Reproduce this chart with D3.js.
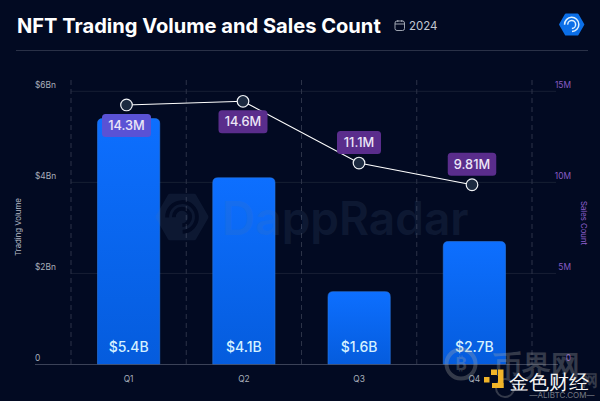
<!DOCTYPE html>
<html><head><meta charset="utf-8">
<script src="https://cdn.jsdelivr.net/npm/d3@7"></script>
<style>html,body{margin:0;padding:0;background:#020a22}svg{display:block}text{font-family:Inter,sans-serif}</style>
</head><body><svg id="c" width="600" height="401"></svg>
<script>
const quarters = ["Q1","Q2","Q3","Q4"];
const volumeBn = [5.4,4.1,1.6,2.7];
const volumeLabels = ["$5.4B","$4.1B","$1.6B","$2.7B"];
const salesM = [14.25,14.45,11.06,9.87];
const salesLabels = ["14.3M","14.6M","11.1M","9.81M"];
const leftTicks = [0,2,4,6];
const leftTickLabels = ["0","$2Bn","$4Bn","$6Bn"];
const rightTicks = [0,5,10,15];
const rightTickLabels = ["0","5M","10M","15M"];
const title = "NFT Trading Volume and Sales Count";
const period = "2024";

const svg = d3.select("#c");
const defs = svg.append("defs");
const g = defs.append("linearGradient").attr("id","bar").attr("x1",0).attr("x2",0).attr("y1",0).attr("y2",1);
g.append("stop").attr("offset",0).attr("stop-color","#0d6fff");
g.append("stop").attr("offset",1).attr("stop-color","#055cdd");

const y0 = 364.5, yTop = 91.3;
const yL = d3.scaleLinear().domain([0,6]).range([y0,yTop]);
const yR = d3.scaleLinear().domain([0,15]).range([y0,yTop]);
const x = d3.scaleBand().domain(quarters).range([71,532]).paddingInner(0.46).paddingOuter(0.23);
const xLine = d3.scaleOrdinal().domain(quarters).range([126.5,243,359,472]);
const edges = d3.scaleLinear().domain([0,4]).range([71,532]);

// header
svg.append("text").attr("x",17).attr("y",33).attr("fill","#fff").attr("font-size",20.1).attr("font-weight",700).text(title);
svg.append("text").attr("x",409).attr("y",30).attr("fill","#c3c8d2").attr("font-size",11.5).text(period);
const cal = svg.append("g").attr("transform","translate(395,20)").attr("fill","none").attr("stroke","#aeb4c0").attr("stroke-width",0.9);
cal.append("rect").attr("x",0).attr("y",1).attr("width",9.5).attr("height",9.5).attr("rx",2);
cal.append("line").attr("x1",0).attr("x2",9.5).attr("y1",4).attr("y2",4);
cal.append("line").attr("x1",2.8).attr("x2",2.8).attr("y1",0).attr("y2",2);
cal.append("line").attr("x1",6.8).attr("x2",6.8).attr("y1",0).attr("y2",2);
svg.append("line").attr("x1",16).attr("x2",588).attr("y1",50.5).attr("y2",50.5).attr("stroke","#2a3147").attr("stroke-width",1);

function radarLogo(sel,cx,cy,r,fill,stroke,sw){
  const hex = d3.range(6).map(i=>{const a=Math.PI/3*i;return [cx+r*Math.cos(a),cy+r*Math.sin(a)];});
  sel.append("path").attr("d",d3.line().curve(d3.curveLinearClosed)(hex)).attr("fill",fill).attr("stroke",fill).attr("stroke-width",r*0.2).attr("stroke-linejoin","round");
  [0.62,0.34].forEach(f=>{
    sel.append("path").attr("d",d3.arc()({innerRadius:r*f,outerRadius:r*f,startAngle:-1.6,endAngle:3.1}))
      .attr("transform",`translate(${cx},${cy})`).attr("fill","none").attr("stroke",stroke).attr("stroke-width",sw).attr("stroke-linecap","round");
  });
}
radarLogo(svg.append("g"),571.7,24.5,11.5,"#0b6fe8","#dff1ff",1.5);

// grid
svg.append("g").selectAll("line").data(leftTicks.slice(1)).join("line")
  .attr("x1",71).attr("x2",556).attr("y1",d=>yL(d)).attr("y2",d=>yL(d))
  .attr("stroke","#1d2438").attr("stroke-width",0.8);
svg.append("g").selectAll("line").data(d3.range(5)).join("line")
  .attr("x1",d=>edges(d)).attr("x2",d=>edges(d)).attr("y1",80).attr("y2",364)
  .attr("stroke","#2c3348").attr("stroke-width",1).attr("stroke-dasharray","5 4");

// bars
svg.append("g").selectAll("path").data(quarters).join("path")
  .attr("d",(d,i)=>{const x0=x(d),w=x.bandwidth(),t=yL(volumeBn[i]),r=5;
    return `M${x0},${y0}V${t+r}Q${x0},${t} ${x0+r},${t}H${x0+w-r}Q${x0+w},${t} ${x0+w},${t+r}V${y0}Z`;})
  .attr("fill","url(#bar)").attr("stroke","#2a78e6").attr("stroke-width",0.6);

// center watermark, above the bars and very faint
const wmC = svg.append("g").attr("opacity",0.13);
radarLogo(wmC,182,217,24,"#5a7aa0","#020a22",4);
wmC.append("text").attr("x",222).attr("y",235).attr("fill","#5a7aa0").attr("font-size",46).attr("font-weight",600).text("DappRadar");

svg.append("g").selectAll("text").data(quarters).join("text")
  .attr("x",d=>x(d)+x.bandwidth()/2).attr("y",351.5).attr("text-anchor","middle")
  .attr("fill","#d5f1ff").attr("font-size",14).attr("font-weight",500).text((d,i)=>volumeLabels[i]);

// baseline
svg.append("line").attr("x1",35).attr("x2",558).attr("y1",y0).attr("y2",y0).attr("stroke","#4a5066").attr("stroke-width",0.8);

// axes
const axisL = d3.axisLeft(yL).tickValues(leftTicks).tickFormat((d,i)=>leftTickLabels[i]).tickSize(0);
const gL = svg.append("g").attr("transform","translate(35,0)").call(axisL);
gL.select(".domain").remove();
gL.selectAll("text").attr("x",0).attr("dy",-3.6).attr("text-anchor","start").attr("fill","#a9afba").attr("font-size",8.4);
const axisR = d3.axisRight(yR).tickValues(rightTicks).tickFormat((d,i)=>rightTickLabels[i]).tickSize(0);
const gR = svg.append("g").attr("transform","translate(571,0)").call(axisR);
gR.select(".domain").remove();
gR.selectAll("text").attr("x",0).attr("dy",-3.6).attr("text-anchor","end").attr("fill","#8a5cc4").attr("font-size",8.4);
const axisB = d3.axisBottom(x).tickSize(0);
const gB = svg.append("g").attr("transform",`translate(0,${y0})`).call(axisB);
gB.select(".domain").remove();
gB.selectAll("text").attr("y",12).attr("dy","0.71em").attr("fill","#a9afba").attr("font-size",8.4);

svg.append("text").attr("transform","translate(21,227) rotate(-90)").attr("text-anchor","middle").attr("fill","#b5bac5").attr("font-size",7.8).text("Trading Volume");
svg.append("text").attr("transform","translate(581,223) rotate(90)").attr("text-anchor","middle").attr("fill","#8f60d0").attr("font-size",7.8).text("Sales Count");

// line
svg.append("path").attr("d",d3.line().x((d,i)=>xLine(quarters[i])).y(d=>yR(d))(salesM))
  .attr("fill","none").attr("stroke","#fff").attr("stroke-width",1.1);

// chips
const chipW = [49,49,44,48.5];
const chips = svg.append("g").selectAll("g").data(quarters).join("g")
  .attr("transform",(d,i)=>`translate(${xLine(d)},${yR(salesM[i])+(i<2?20.5:-20.5)})`);
chips.append("rect").attr("x",(d,i)=>-chipW[i]/2).attr("y",-11.5).attr("width",(d,i)=>chipW[i]).attr("height",23).attr("rx",3.5)
  .attr("fill",(d,i)=>i==0?"#5a52d5":"#5a2d8c");
chips.append("text").attr("text-anchor","middle").attr("y",4.5).attr("fill","#ece6f7").attr("font-size",12.8).attr("font-weight",500).text((d,i)=>salesLabels[i]);

// points
svg.append("g").selectAll("circle").data(salesM).join("circle")
  .attr("cx",(d,i)=>xLine(quarters[i])).attr("cy",d=>yR(d)).attr("r",5.8)
  .attr("fill","#1c2a40").attr("stroke","#f0f2f5").attr("stroke-width",1.2);

// corner watermarks
const wm = svg.append("g");
const wmGray = wm.append("g").attr("opacity",0.3);
wmGray.append("circle").attr("cx",461).attr("cy",364).attr("r",14.5).attr("fill","none").attr("stroke","#a8a8a8").attr("stroke-width",4);
wmGray.append("circle").attr("cx",505).attr("cy",388).attr("r",9).attr("fill","none").attr("stroke","#a8a8a8").attr("stroke-width",2);
wmGray.append("text").attr("x",461).attr("y",370).attr("text-anchor","middle").attr("fill","#a8a8a8").attr("font-size",17).attr("font-weight",700).text("₿");
wmGray.append("text").attr("x",493).attr("y",376).attr("fill","#a8a8a8").attr("font-size",29).attr("font-family","Noto Sans CJK SC").attr("font-weight",700).text("币界网");
wmGray.append("text").attr("x",582).attr("y",386).attr("fill","#a8a8a8").attr("font-size",16).attr("font-family","Noto Sans CJK SC").attr("font-weight",700).text("网");
wm.append("text").attr("x",562).attr("y",398).attr("text-anchor","middle").attr("fill","#777b85").attr("font-size",8).text("—ALIBTC.COM—");
const gold = "#f0b429";
[[484,377,5.5,5.5],[491,369.5,6,5.5],[498,369.5,5.5,18.5],[492,383,11.5,5]].forEach(r=>{
  wm.append("rect").attr("x",r[0]).attr("y",r[1]).attr("width",r[2]).attr("height",r[3]).attr("fill",gold);
});
wm.append("text").attr("x",509).attr("y",388.5).attr("fill","#f4f4f4").attr("font-size",20).attr("font-family","Noto Sans CJK SC").attr("font-weight",500).text("金色财经");
</script></body></html>
